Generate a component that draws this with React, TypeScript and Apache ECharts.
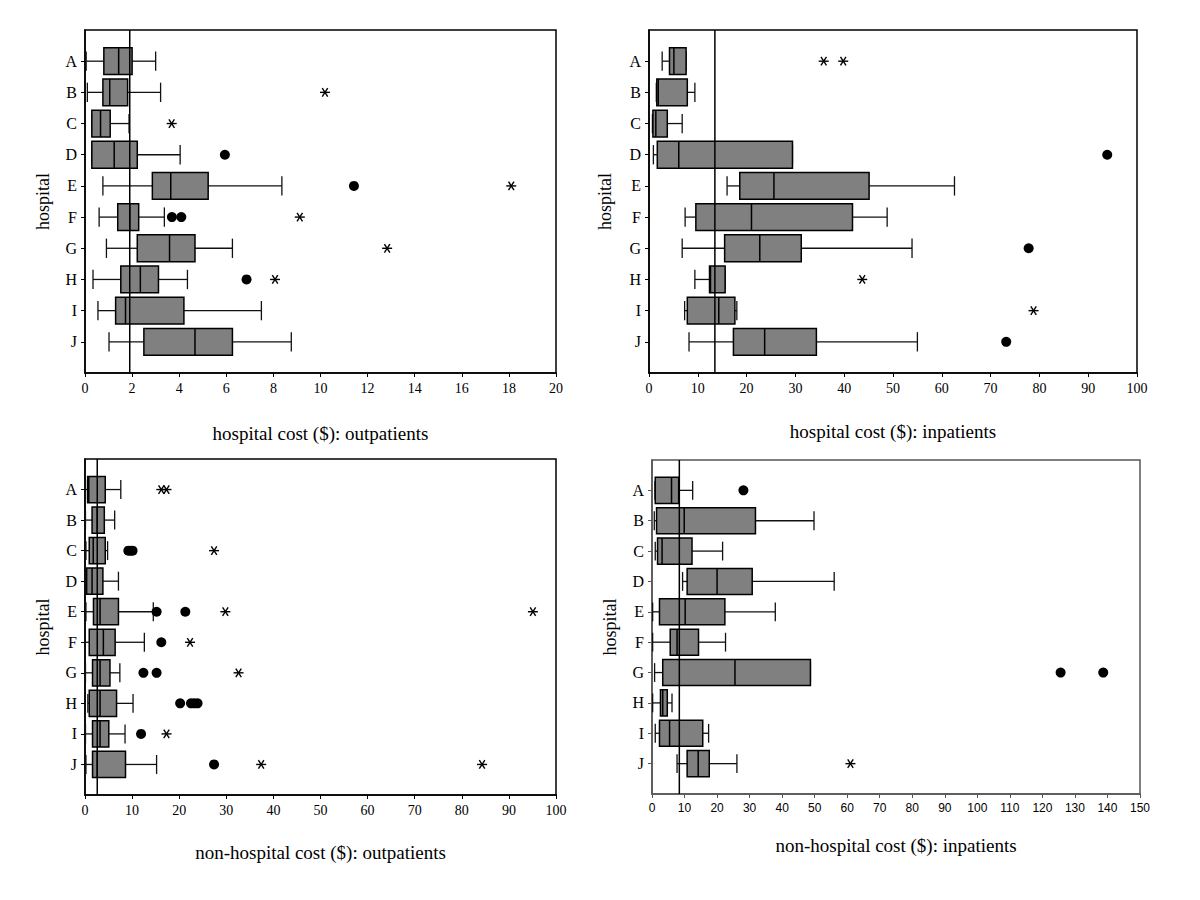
import { useEffect, useRef } from 'react';
import * as echarts from 'echarts';

const hospitals = ['A', 'B', 'C', 'D', 'E', 'F', 'G', 'H', 'I', 'J'];
const yCategories = ['', ...hospitals, ' '];

// each row: [min, Q1, median, Q3, max] for hospitals A..J
const hospOutBoxes = [
  [0.05, 0.8, 1.43, 2.0, 3.0],
  [0.1, 0.76, 1.05, 1.81, 3.21],
  [0.29, 0.29, 0.66, 1.07, 1.87],
  [0.29, 0.29, 1.24, 2.22, 4.04],
  [0.76, 2.86, 3.64, 5.23, 8.36],
  [0.6, 1.39, 1.9, 2.28, 3.37],
  [0.91, 2.22, 3.59, 4.67, 6.26],
  [0.34, 1.52, 2.35, 3.12, 4.35],
  [0.55, 1.3, 1.72, 4.2, 7.49],
  [1.02, 2.5, 4.67, 6.26, 8.76],
];
const hospOutCircles = [['D', 5.94], ['E', 11.42], ['F', 3.69], ['F', 4.09], ['H', 6.86]];
const hospOutStars = [['B', 10.19], ['C', 3.68], ['E', 18.1], ['F', 9.12], ['G', 12.83], ['H', 8.07]];
const hospOutRef = 1.9;

const hospInBoxes = [
  [2.7, 4.2, 5.1, 7.6, 7.6],
  [1.5, 1.6, 1.9, 7.85, 9.4],
  [0.7, 0.8, 1.4, 3.75, 6.8],
  [0.9, 1.7, 6.1, 29.4, 29.4],
  [16.0, 18.6, 25.6, 45.1, 62.6],
  [7.4, 9.6, 21.0, 41.7, 48.8],
  [6.8, 15.5, 22.7, 31.2, 53.9],
  [9.4, 12.4, 12.6, 15.6, 15.6],
  [7.3, 7.85, 14.3, 17.6, 18.0],
  [8.2, 17.3, 23.7, 34.3, 55.0],
];
const hospInCircles = [['D', 93.9], ['G', 77.8], ['J', 73.2]];
const hospInStars = [['A', 35.8], ['A', 39.8], ['H', 43.7], ['I', 78.8]];
const hospInRef = 13.5;

const nonHospOutBoxes = [
  [0.1, 0.56, 0.8, 4.3, 7.6],
  [0.1, 1.5, 2.6, 4.1, 6.3],
  [0.2, 0.9, 1.75, 4.3, 4.8],
  [0.05, 0.35, 1.5, 3.8, 7.1],
  [0.2, 1.8, 3.2, 7.1, 14.5],
  [0.05, 0.9, 3.9, 6.4, 12.6],
  [0.1, 1.6, 3.2, 5.3, 7.4],
  [0.6, 0.9, 3.2, 6.7, 10.2],
  [0.1, 1.6, 3.2, 5.05, 8.5],
  [0.2, 1.6, 2.6, 8.6, 15.2],
];
const nonHospOutCircles = [
  ['C', 9.2], ['C', 9.7], ['C', 10.1], ['E', 15.2], ['E', 21.3], ['F', 16.2],
  ['G', 12.4], ['G', 15.2], ['H', 20.2], ['H', 22.5], ['H', 23.2], ['H', 23.9],
  ['I', 11.9], ['J', 27.4],
];
const nonHospOutStars = [
  ['A', 16.2], ['A', 17.3], ['C', 27.4], ['E', 29.8], ['E', 95.1], ['F', 22.3],
  ['G', 32.6], ['I', 17.3], ['J', 37.4], ['J', 84.3],
];
const nonHospOutRef = 2.6;

const nonHospInBoxes = [
  [0.9, 1.0, 6.0, 8.2, 12.5],
  [0.7, 1.4, 9.9, 31.8, 49.8],
  [1.0, 1.7, 3.1, 12.3, 21.7],
  [9.4, 10.8, 20.0, 30.8, 56.0],
  [0.2, 2.3, 10.2, 22.4, 37.9],
  [0.2, 5.6, 7.7, 14.3, 22.6],
  [0.8, 3.3, 25.5, 48.7, 48.7],
  [0.2, 2.6, 3.3, 4.7, 6.15],
  [1.0, 2.3, 5.4, 15.6, 17.4],
  [7.7, 10.8, 14.2, 17.6, 26.1],
];
const nonHospInCircles = [['A', 28.1], ['G', 125.6], ['G', 138.7]];
const nonHospInStars = [['J', 61.0]];
const nonHospInRef = 8.4;

const SERIF = '"Liberation Serif", "Times New Roman", serif';
const SANS = '"Liberation Sans", Arial, sans-serif';

const panels = [
  {
    grid: { left: 85, top: 30, width: 471, height: 343 },
    max: 20, interval: 2, title: 'hospital cost ($): outpatients', nameGap: 51, yGap: 33,
    tickFont: SERIF, tickSize: 14, border: '#000',
    boxes: hospOutBoxes, circles: hospOutCircles, stars: hospOutStars, ref: hospOutRef,
  },
  {
    grid: { left: 649, top: 30, width: 488, height: 343 },
    max: 100, interval: 10, title: 'hospital cost ($): inpatients', nameGap: 49, yGap: 35,
    tickFont: SERIF, tickSize: 14, border: '#000',
    boxes: hospInBoxes, circles: hospInCircles, stars: hospInStars, ref: hospInRef,
  },
  {
    grid: { left: 85, top: 459, width: 471, height: 336 },
    max: 100, interval: 10, title: 'non-hospital cost ($): outpatients', nameGap: 48, yGap: 33,
    tickFont: SERIF, tickSize: 14, border: '#000',
    boxes: nonHospOutBoxes, circles: nonHospOutCircles, stars: nonHospOutStars, ref: nonHospOutRef,
  },
  {
    grid: { left: 652, top: 460, width: 488, height: 334 },
    max: 150, interval: 10, title: 'non-hospital cost ($): inpatients', nameGap: 42, yGap: 33,
    tickFont: SANS, tickSize: 12, border: '#555',
    boxes: nonHospInBoxes, circles: nonHospInCircles, stars: nonHospInStars, ref: nonHospInRef,
  },
];

const catIndex = (h: string) => hospitals.indexOf(h) + 1;

const boxRender = (params: any, api: any) => {
  const yi = api.value(0);
  const mn = api.value(1), q1 = api.value(2), md = api.value(3), q3 = api.value(4), mx = api.value(5);
  const c0 = api.coord([q1, yi]);
  const cy = c0[1];
  const step = Math.abs(api.coord([q1, yi + 1])[1] - cy);
  const bh = step * 0.86;
  const ch = step * 0.62;
  const X = (v: number) => api.coord([v, yi])[0];
  const wStyle = { stroke: '#111', lineWidth: 1.3 };
  return {
    type: 'group',
    children: [
      { type: 'line', shape: { x1: X(mn), y1: cy, x2: X(q1), y2: cy }, style: wStyle },
      { type: 'line', shape: { x1: X(q3), y1: cy, x2: X(mx), y2: cy }, style: wStyle },
      { type: 'line', shape: { x1: X(mn), y1: cy - ch / 2, x2: X(mn), y2: cy + ch / 2 }, style: wStyle },
      { type: 'line', shape: { x1: X(mx), y1: cy - ch / 2, x2: X(mx), y2: cy + ch / 2 }, style: wStyle },
      {
        type: 'rect',
        shape: { x: X(q1), y: cy - bh / 2, width: X(q3) - X(q1), height: bh },
        style: { fill: '#808080', stroke: '#000', lineWidth: 1.5 },
      },
      { type: 'line', shape: { x1: X(md), y1: cy - bh / 2, x2: X(md), y2: cy + bh / 2 }, style: { stroke: '#000', lineWidth: 1.5 } },
    ],
  };
};

const starRender = (params: any, api: any) => {
  const p = api.coord([api.value(0), api.value(1)]);
  const r = 5;
  const st = { stroke: '#000', lineWidth: 1.4 };
  return {
    type: 'group',
    x: p[0],
    y: p[1],
    children: [
      { type: 'line', shape: { x1: -r, y1: 0, x2: r, y2: 0 }, style: st },
      { type: 'line', shape: { x1: -r * 0.55, y1: -r * 0.85, x2: r * 0.55, y2: r * 0.85 }, style: st },
      { type: 'line', shape: { x1: -r * 0.55, y1: r * 0.85, x2: r * 0.55, y2: -r * 0.85 }, style: st },
    ],
  };
};

const refRender = (params: any, api: any) => {
  const x = api.value(0);
  const a = api.coord([x, 0]);
  const b = api.coord([x, yCategories.length - 1]);
  return {
    type: 'line',
    shape: { x1: a[0], y1: a[1], x2: b[0], y2: b[1] },
    style: { stroke: '#000', lineWidth: 1.5 },
  };
};

function buildOption() {
  const grid: any[] = [];
  const xAxis: any[] = [];
  const yAxis: any[] = [];
  const series: any[] = [];
  panels.forEach((p, i) => {
    grid.push({
      ...p.grid,
      show: true,
      borderColor: p.border,
      borderWidth: 1.5,
      backgroundColor: 'transparent',
      containLabel: false,
    });
    xAxis.push({
      type: 'value',
      gridIndex: i,
      min: 0,
      max: p.max,
      interval: p.interval,
      name: p.title,
      nameLocation: 'middle',
      nameGap: p.nameGap,
      nameTextStyle: { fontFamily: SERIF, fontSize: 19, color: '#000', verticalAlign: 'top' },
      axisLine: { show: true, onZero: false, lineStyle: { color: p.border, width: 1.5 } },
      axisTick: { show: true, inside: false, length: 4, lineStyle: { color: p.border, width: 1 } },
      axisLabel: { fontFamily: p.tickFont, fontSize: p.tickSize, color: '#000', margin: 8 },
      splitLine: { show: false },
    });
    yAxis.push({
      type: 'category',
      gridIndex: i,
      data: yCategories,
      inverse: true,
      boundaryGap: false,
      name: 'hospital',
      nameLocation: 'middle',
      nameGap: p.yGap,
      nameRotate: 90,
      nameTextStyle: { fontFamily: SERIF, fontSize: 18, color: '#000' },
      axisLine: { show: true, lineStyle: { color: p.border, width: 1.5 } },
      axisTick: {
        show: true,
        length: 4,
        interval: (idx: number, val: string) => val.trim() !== '',
        lineStyle: { color: p.border, width: 1 },
      },
      axisLabel: {
        fontFamily: SERIF,
        fontSize: 16,
        color: '#000',
        margin: 8,
        interval: (idx: number, val: string) => val.trim() !== '',
      },
      splitLine: { show: false },
    });
    series.push({
      type: 'custom',
      xAxisIndex: i,
      yAxisIndex: i,
      renderItem: boxRender,
      encode: { x: [1, 2, 3, 4, 5], y: 0 },
      data: p.boxes.map((b, k) => [k + 1, ...b]),
      z: 2,
      silent: true,
    });
    series.push({
      type: 'custom',
      xAxisIndex: i,
      yAxisIndex: i,
      renderItem: refRender,
      encode: { x: 0, y: 1 },
      data: [[p.ref, 0]],
      z: 3,
      silent: true,
    });
    series.push({
      type: 'scatter',
      xAxisIndex: i,
      yAxisIndex: i,
      symbol: 'circle',
      symbolSize: 10,
      itemStyle: { color: '#000', opacity: 1 },
      data: p.circles.map(([h, v]) => [v, catIndex(h as string)]),
      z: 4,
      silent: true,
    });
    series.push({
      type: 'custom',
      xAxisIndex: i,
      yAxisIndex: i,
      renderItem: starRender,
      encode: { x: 0, y: 1 },
      data: p.stars.map(([h, v]) => [v, catIndex(h as string)]),
      z: 4,
      silent: true,
    });
  });
  return {
    animation: false,
    backgroundColor: '#fff',
    grid,
    xAxis,
    yAxis,
    series,
  };
}

export default function App() {
  const ref = useRef<HTMLDivElement>(null);
  useEffect(() => {
    document.body.style.margin = '0';
    if (!ref.current) return;
    const chart = echarts.init(ref.current, null, { renderer: 'svg' });
    chart.setOption(buildOption() as any);
    return () => chart.dispose();
  }, []);
  return <div ref={ref} style={{ width: 1200, height: 900 }} />;
}
